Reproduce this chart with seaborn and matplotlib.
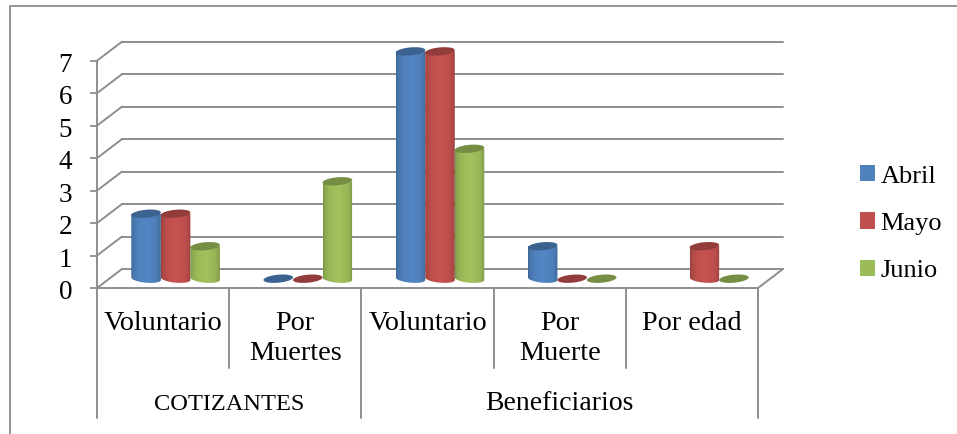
import numpy as np
import pandas as pd
import matplotlib
matplotlib.use('Agg')
import matplotlib.pyplot as plt
from matplotlib.lines import Line2D
from matplotlib.path import Path
from matplotlib.transforms import ScaledTranslation
import seaborn as sns

categories = ['Voluntario', 'Por\nMuertes', 'Voluntario', 'Por\nMuerte', 'Por edad']
groups = ['COTIZANTES', 'Beneficiarios']
abril = [2, 0, 7, 1, np.nan]
mayo = [2, 0, 7, 0, 1]
junio = [1, 3, 4, 0, 0]
y_ticks = [0, 1, 2, 3, 4, 5, 6, 7]

colors = {'Abril': '#4F81BD', 'Mayo': '#C0504D', 'Junio': '#9BBB59'}
grey = '#8e8e8e'

df = pd.DataFrame({'cat': range(len(categories)), 'Abril': abril, 'Mayo': mayo, 'Junio': junio})
df = df.melt(id_vars='cat', var_name='mes', value_name='valor')

sns.set_theme(style='white', rc={'text.color': 'black', 'ytick.color': 'black'})
plt.rcParams['font.family'] = ['Liberation Serif', 'DejaVu Serif']

W, H = 957, 434
fig = plt.figure(figsize=(W / 100, H / 100), dpi=100, facecolor='white')


def rect(x0, x1, y_bottom, y_top):
    return [x0 / W, 1 - y_bottom / H, (x1 - x0) / W, (y_bottom - y_top) / H]


# front plane of the box, walls are drawn from here
ax = fig.add_axes(rect(97, 758, 288, 60.7))
ax.set_xlim(-0.5, 4.5)
ax.set_ylim(0, 7)
ax.set_xticks([])
ax.set_yticks(y_ticks)
ax.tick_params(axis='y', left=True, length=5, width=1.3, color=grey, pad=13, labelsize=19.5)
for lab in ax.get_yticklabels():
    lab.set_transform(lab.get_transform() + ScaledTranslation(0, -1.5 / 100, fig.dpi_scale_trans))
for s in ['top', 'right']:
    ax.spines[s].set_visible(False)
for s in ['left', 'bottom']:
    ax.spines[s].set_color(grey)
    ax.spines[s].set_linewidth(1.4)

px_x = 1 / 132.2
px_y = 7 / 227.3
dx, dy = 25 * px_x, 19 * px_y
line = dict(color=grey, lw=1.4, clip_on=False, solid_capstyle='round')
for v in y_ticks:
    ax.plot([-0.5 + dx, 4.5 + dx], [v + dy, v + dy], **line)
    ax.plot([-0.5, -0.5 + dx], [v, v + dy], **line)
ax.plot([4.5, 4.5 + dx], [0, dy], **line)

# multi level category axis
y_inner = -80 * px_y
y_outer = -130 * px_y
for edge in np.arange(-0.5, 5):
    bottom = y_outer if edge in (-0.5, 1.5, 4.5) else y_inner
    ax.plot([edge, edge], [0, bottom], **line)

for i, label in enumerate(categories):
    ax.text(i, -23.5 * px_y, label, ha='center', va='top', fontsize=20.3, linespacing=1.26)
ax.text(0.5, -116 * px_y, groups[0], ha='center', va='center', fontsize=17.6)
ax.text(3, -116 * px_y, groups[1], ha='center', va='center', fontsize=20)

# bars stand half way into the box
ax_bars = fig.add_axes(rect(109.5, 770.5, 278.7, 51.4))
ax_bars.patch.set_alpha(0)
sns.barplot(data=df, x='cat', y='valor', hue='mes', palette=colors, order=range(5),
            width=0.67, gap=0, saturation=1, errorbar=None, linewidth=0, ax=ax_bars)
ax_bars.set_xlim(-0.5, 4.5)
ax_bars.set_ylim(0, 7)
ax_bars.axis('off')

sns.move_legend(ax_bars, 'upper left', bbox_to_anchor=(860 / W, 1 - 165 / H),
                bbox_transform=fig.transFigure, title=None, frameon=False, fontsize=19,
                handlelength=0.58, handleheight=0.58, handletextpad=0.2,
                labelspacing=0.94, borderpad=0, borderaxespad=0)

shade_x = [0, 0.05, 0.25, 0.55, 0.85, 0.95, 1]
shade_v = [0.78, 0.9, 1.0, 1.04, 0.97, 0.88, 0.78]
t_low = np.linspace(np.pi, 2 * np.pi, 40)
t_full = np.linspace(0, 2 * np.pi, 80)
ry = 4 * px_y
tilt = 1.3 * px_y

for container, name in zip(ax_bars.containers, colors):
    base = np.array(matplotlib.colors.to_rgb(colors[name]))
    for bar in container:
        x0, w, h = bar.get_x(), bar.get_width(), bar.get_height()
        cx, rx = x0 + w / 2, w / 2
        bar.set_visible(False)
        if h > 0:
            u = np.linspace(0, 1, 60)
            s = np.interp(u, shade_x, shade_v)
            img = np.clip(base[None, None, :] * s[None, :, None], 0, 1)
            im = ax_bars.imshow(img, extent=(x0, x0 + w, -2 * ry, h), aspect='auto', zorder=3,
                                interpolation='bilinear')
            xs = cx + rx * np.cos(t_low)
            ys = ry * np.sin(t_low) - tilt * np.cos(t_low)
            verts = np.column_stack([np.r_[xs, x0 + w, x0], np.r_[ys, h, h]])
            im.set_clip_box(fig.bbox)
            im.set_clip_path(Path(np.vstack([verts, verts[0]]), closed=True), ax_bars.transData)
        ax_bars.fill(cx + rx * np.cos(t_full),
                     h + ry * np.sin(t_full) + tilt * np.cos(t_full),
                     color=base * 0.76, lw=0, zorder=4, clip_on=False)

ax_bars.set_xlim(-0.5, 4.5)
ax_bars.set_ylim(0, 7)

# chart frame, only left and top show in the picture
fig.add_artist(Line2D([9.5 / W, 9.5 / W, 1], [0, 1 - 5.5 / H, 1 - 5.5 / H], color=grey, lw=1.3))

fig.savefig('out.png', dpi=100, facecolor='white')
